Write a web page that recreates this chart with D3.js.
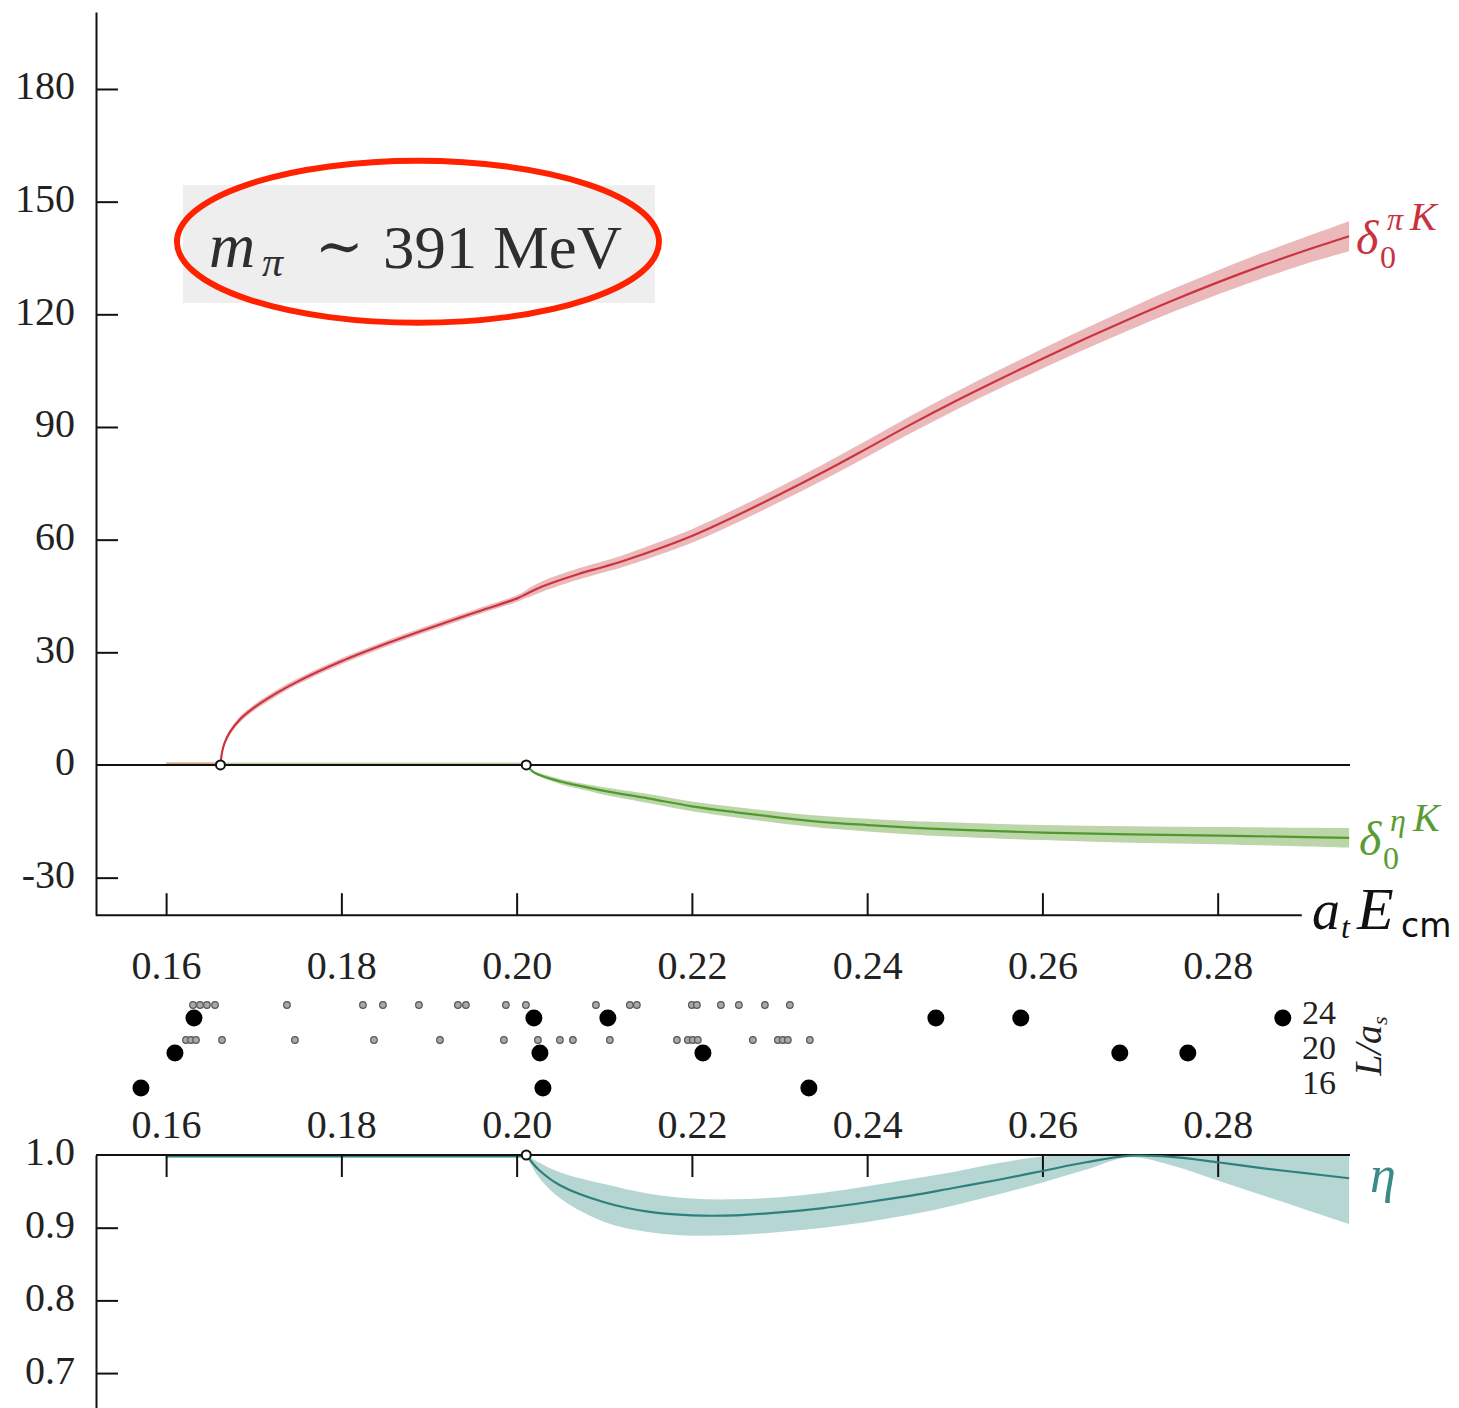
<!DOCTYPE html>
<html>
<head>
<meta charset="utf-8">
<script src="https://cdn.jsdelivr.net/npm/d3@7/dist/d3.min.js"></script>
<style>
  body { margin: 0; background: #fff; }
  svg { display: block; }
  text { font-family: "Liberation Serif", "DejaVu Serif", serif; }
</style>
</head>
<body>
<svg id="chart" width="1459" height="1408"></svg>
<script>
// ---------------- data ----------------
const xTicks = [0.16, 0.18, 0.20, 0.22, 0.24, 0.26, 0.28];
const phaseTicks = [-30, 0, 30, 60, 90, 120, 150, 180];
const etaTicks = [0.7, 0.8, 0.9];

const thrPiK = 0.1662;
const thrEtaK = 0.2011;

// delta_0^{piK}
const E_piK  = [0.1662,0.1664,0.1667,0.1673,0.1685,0.170,0.1725,0.175,0.18,0.185,0.19,0.195,0.2,0.201,0.2015,0.203,0.207,0.21,0.2125,0.22,0.225,0.23,0.235,0.24,0.245,0.25,0.255,0.26,0.265,0.27,0.275,0.28,0.285,0.29,0.295];
const d_piK  = [0,3.6,6,8.8,12.3,15.2,19.0,22.2,27.6,32.2,36.4,40.4,44.3,45.4,46.0,47.6,50.8,52.8,54.6,61,66.3,72,78,84.3,90.7,96.8,102.6,108.2,113.6,118.8,123.8,128.5,132.9,137,140.8];
const d_piK_lo = [0,3.1,5.4,8.1,11.5,14.4,18.2,21.4,26.8,31.4,35.6,39.6,43.4,44.4,44.8,46.2,49.3,51.3,53.0,59.2,64.4,70,75.9,82.1,88.4,94.4,100.1,105.6,110.85,115.9,120.75,125.3,129.5,133.4,136.8];
const d_piK_hi = [0,4.1,6.6,9.5,13.1,16.0,19.8,23.0,28.4,33.0,37.2,41.2,45.2,46.4,47.2,49.0,52.3,54.3,56.2,62.8,68.2,74,80.1,86.5,93,99.2,105.1,110.8,116.35,121.7,126.85,131.7,136.3,140.6,144.8];

// delta_0^{etaK}
const E_etaK  = [0.2011,0.2015,0.202,0.203,0.205,0.2075,0.21,0.215,0.22,0.225,0.23,0.235,0.24,0.245,0.25,0.26,0.27,0.28,0.29,0.295];
const d_etaK  = [0,-1,-2,-3,-4.4,-5.7,-6.9,-8.9,-11,-12.6,-14,-15.2,-16,-16.7,-17.2,-18,-18.5,-18.8,-19.2,-19.4];
const d_etaK_lo = [0,-1.2,-2.3,-3.5,-5.1,-6.5,-7.9,-10.1,-12.3,-14,-15.5,-16.8,-17.7,-18.5,-19.1,-20,-20.7,-21.1,-21.7,-22];
const d_etaK_hi = [0,-0.8,-1.7,-2.5,-3.7,-4.9,-5.9,-7.7,-9.7,-11.2,-12.5,-13.6,-14.3,-14.9,-15.3,-16,-16.3,-16.5,-16.7,-16.8];

// inelasticity eta
const E_eta  = [0.2011,0.2025,0.205,0.21,0.215,0.22,0.225,0.23,0.235,0.24,0.245,0.25,0.255,0.26,0.265,0.27,0.275,0.28,0.285,0.29,0.295];
const eta    = [1.0,0.980,0.958,0.935,0.922,0.917,0.917,0.921,0.927,0.935,0.944,0.955,0.966,0.978,0.990,0.999,0.997,0.990,0.982,0.975,0.968];
const eta_lo = [1.0,0.970,0.940,0.908,0.894,0.889,0.890,0.894,0.900,0.908,0.918,0.931,0.946,0.962,0.980,0.997,0.985,0.965,0.945,0.925,0.905];
const eta_hi = [1.0,0.990,0.976,0.960,0.947,0.940,0.939,0.942,0.948,0.957,0.967,0.977,0.989,0.998,1.0,1.0,1.0,1.0,1.0,1.0,1.0];

// finite-volume levels (big dots) by L/a_s
const levels24 = [0.16318,0.20197,0.21041,0.24784,0.25753,0.28743];
const levels20 = [0.16101,0.20266,0.22126,0.26883,0.27659];
const levels16 = [0.15713,0.20300,0.23335];
// non-interacting levels (small grey dots)
const free24 = [0.16307,0.16387,0.16466,0.16558,0.17379,0.18246,0.18474,0.18885,0.19330,0.19421,0.19878,0.20106,0.20905,0.21292,0.21372,0.22000,0.22057,0.22331,0.22536,0.22833,0.23118];
const free20 = [0.16227,0.16284,0.16341,0.16638,0.17470,0.18372,0.19125,0.19855,0.20243,0.20494,0.20642,0.21064,0.21829,0.21954,0.22011,0.22068,0.22696,0.22981,0.23038,0.23095,0.23346];
const volumes = [24, 20, 16];

// ---------------- drawing ----------------
const svg = d3.select("#chart");
const xEnd = 0.2951;
const x = d3.scaleLinear().domain([0.152, xEnd]).range([96, 1350]);
const y1 = d3.scaleLinear().domain([-40, 200.5]).range([915.2, 12]);
const y2 = d3.scaleLinear().domain([0.64, 1.0]).range([1416.7, 1155]);
const yL = d3.scaleLinear().domain([16, 24]).range([1088, 1018]);

const red = "#cc3340", redBand = "#ecb9bb";
const green = "#4f9a2d", greenBand = "#bcd6a9";
const teal = "#2f7f7c", tealBand = "#b6d6d4";

const zip = (a, b) => a.map((v, i) => [v, b[i]]);
const curve = d3.curveCatmullRom.alpha(0.5);

function styleAxis(g, size) {
  g.attr("font-family", null);
  g.selectAll("line").attr("stroke", "#111").attr("stroke-width", 2);
  g.selectAll("path.domain").attr("stroke", "#111").attr("stroke-width", 2);
  g.selectAll("text").attr("font-size", size).attr("fill", "#222")
    .style("font-family", '"Liberation Serif", serif');
}
const fmtPhase = d => d < 0 ? "-" + (-d) : String(d);

// gray box + label
const boxL = 0.16193, boxR = 0.21578;
svg.append("rect").attr("x", x(boxL)).attr("y", y1(154.4)).attr("width", x(boxR) - x(boxL))
  .attr("height", y1(123) - y1(154.4)).attr("fill", "#eeeeee");
svg.append("ellipse").attr("cx", x(0.18874)).attr("cy", y1(139.3)).attr("rx", 241).attr("ry", 81)
  .attr("fill", "none").attr("stroke", "#ff2200").attr("stroke-width", 6);
const mt = svg.append("g").attr("fill", "#2e2e2e");
mt.append("text").attr("x", 209).attr("y", 267).attr("font-size", 64).attr("font-style", "italic").text("m");
mt.append("text").attr("x", 262).attr("y", 276).attr("font-size", 42).attr("font-style", "italic").text("π");
mt.append("text").attr("x", 315).attr("y", 266).attr("font-size", 58).text("∼");
mt.append("text").attr("x", 383).attr("y", 268).attr("font-size", 62)
  .attr("textLength", 239).attr("lengthAdjust", "spacingAndGlyphs").text("391 MeV");

// ---- top panel ----
const area1 = d3.area().curve(curve).x(d => x(d[0])).y0(d => y1(d[1][0])).y1(d => y1(d[1][1]));
svg.append("path").datum(zip(E_piK, E_piK.map((_, i) => [d_piK_lo[i], d_piK_hi[i]])))
  .attr("fill", redBand).attr("d", area1);
svg.append("path").datum(zip(E_etaK, E_etaK.map((_, i) => [d_etaK_lo[i], d_etaK_hi[i]])))
  .attr("fill", greenBand).attr("d", area1);

// below-threshold faint lines
svg.append("line").attr("x1", x(0.16)).attr("x2", x(thrEtaK)).attr("y1", y1(0) - 1).attr("y2", y1(0) - 1)
  .attr("stroke", greenBand).attr("stroke-width", 3);
svg.append("line").attr("x1", x(0.16)).attr("x2", x(thrPiK)).attr("y1", y1(0) - 1).attr("y2", y1(0) - 1)
  .attr("stroke", "#d9a98f").attr("stroke-width", 3);

// zero line
svg.append("line").attr("x1", x(0.152)).attr("x2", x(xEnd)).attr("y1", y1(0)).attr("y2", y1(0))
  .attr("stroke", "#111").attr("stroke-width", 2);

// central lines
const line1 = d3.line().curve(curve).x(d => x(d[0])).y(d => y1(d[1]));
svg.append("path").datum(zip(E_piK, d_piK)).attr("fill", "none").attr("stroke", red).attr("stroke-width", 2.2).attr("d", line1);
svg.append("path").datum(zip(E_etaK, d_etaK)).attr("fill", "none").attr("stroke", green).attr("stroke-width", 2.2).attr("d", line1);

// axes top panel
const gy1 = svg.append("g").attr("transform", `translate(${x(0.152)},0)`)
  .call(d3.axisLeft(y1).tickValues(phaseTicks.filter(d => d !== 0)).tickFormat(fmtPhase)
    .tickSizeInner(-22).tickSizeOuter(0).tickPadding(21));
styleAxis(gy1, 40);
gy1.selectAll("text").attr("dy", "0.25em");
svg.append("text").attr("x", 75).attr("y", y1(0)).attr("dy", "0.25em").attr("text-anchor", "end")
  .attr("font-size", 40).attr("fill", "#222").text("0");

const gx1 = svg.append("g").attr("transform", `translate(0,${y1(-40)})`)
  .call(d3.axisBottom(x).tickValues(xTicks).tickFormat(d3.format(".2f"))
    .tickSizeInner(-22).tickSizeOuter(0).tickPadding(35));
styleAxis(gx1, 40);
gx1.select("path.domain").attr("d", `M${x(0.152)},0H${x(0.2896)}`);

// threshold open circles
[[thrPiK, 0], [thrEtaK, 0]].forEach(p => {
  svg.append("circle").attr("cx", x(p[0])).attr("cy", y1(p[1])).attr("r", 4.5)
    .attr("fill", "#fff").attr("stroke", "#111").attr("stroke-width", 2);
});

// labels top panel
function deltaLabel(px, py, sup, color) {
  const g = svg.append("g").attr("fill", color);
  g.append("text").attr("x", px).attr("y", py).attr("font-size", 48).attr("font-style", "italic").text("δ");
  g.append("text").attr("x", px + 24).attr("y", py + 14).attr("font-size", 32).text("0");
  g.append("text").attr("x", px + 31).attr("y", py - 24).attr("font-size", 32).attr("font-style", "italic").text(sup);
  g.append("text").attr("x", px + 54).attr("y", py - 24).attr("font-size", 40).attr("font-style", "italic").text("K");
}
deltaLabel(1356, 254, "π", "#c8323e");
deltaLabel(1359, 855, "η", "#5a9c33");

// x axis label
const xl = svg.append("g").attr("fill", "#111");
xl.append("text").attr("x", 1312).attr("y", 929).attr("font-size", 56).attr("font-style", "italic").text("a");
xl.append("text").attr("x", 1341).attr("y", 938).attr("font-size", 32).attr("font-style", "italic").text("t");
xl.append("text").attr("x", 1357).attr("y", 929).attr("font-size", 60).attr("font-style", "italic").text("E");
xl.append("text").attr("x", 1401).attr("y", 937).attr("font-size", 33)
  .style("font-family", '"DejaVu Sans", "Noto Sans", sans-serif').text("cm");

// ---- middle: spectrum ----
const freeRows = [[24, free24], [20, free20]];
freeRows.forEach(([L, arr]) => {
  svg.append("g").selectAll("circle").data(arr).join("circle")
    .attr("cx", d => x(d)).attr("cy", yL(L) - 13).attr("r", 3.3)
    .attr("fill", "#a8a8a8").attr("stroke", "#555").attr("stroke-width", 1.2);
});
const bigRows = [[24, levels24], [20, levels20], [16, levels16]];
bigRows.forEach(([L, arr]) => {
  svg.append("g").selectAll("circle").data(arr).join("circle")
    .attr("cx", d => x(d)).attr("cy", yL(L)).attr("r", 8.5).attr("fill", "#000");
});
svg.append("g").selectAll("text").data(volumes).join("text")
  .attr("x", 1302).attr("y", d => yL(d) + 6).attr("font-size", 34).attr("fill", "#222").text(d => d);
const La = svg.append("text").attr("transform", `translate(1381,1046) rotate(-90)`)
  .attr("text-anchor", "middle").attr("font-size", 38).attr("font-style", "italic").attr("fill", "#222");
La.append("tspan").text("L/a");
La.append("tspan").attr("font-size", 22).attr("dy", 6).text("s");

// ---- bottom panel ----
svg.append("path").datum(zip(E_eta, E_eta.map((_, i) => [eta_lo[i], eta_hi[i]])))
  .attr("fill", tealBand)
  .attr("d", d3.area().curve(curve).x(d => x(d[0])).y0(d => y2(d[1][0])).y1(d => y2(d[1][1])));
svg.append("line").attr("x1", x(0.16)).attr("x2", x(thrEtaK)).attr("y1", y2(1) + 1.5).attr("y2", y2(1) + 1.5)
  .attr("stroke", teal).attr("stroke-width", 2);

const gx2 = svg.append("g").attr("transform", `translate(0,${y2(1)})`)
  .call(d3.axisTop(x).tickValues(xTicks).tickFormat(d3.format(".2f"))
    .tickSizeInner(-22).tickSizeOuter(0).tickPadding(17));
styleAxis(gx2, 40);
gx2.select("path.domain").attr("d", `M${x(0.152)},0H${x(xEnd)}`);

svg.append("path").datum(zip(E_eta, eta)).attr("fill", "none").attr("stroke", teal).attr("stroke-width", 2.2)
  .attr("d", d3.line().curve(curve).x(d => x(d[0])).y(d => y2(d[1])));

const gy2 = svg.append("g").attr("transform", `translate(${x(0.152)},0)`)
  .call(d3.axisLeft(y2).tickValues(etaTicks).tickFormat(d3.format(".1f"))
    .tickSizeInner(-22).tickSizeOuter(0).tickPadding(21));
styleAxis(gy2, 40);
gy2.selectAll("text").attr("dy", "0.25em");
svg.append("text").attr("x", 75).attr("y", y2(1)).attr("dy", "0.25em").attr("text-anchor", "end")
  .attr("font-size", 40).attr("fill", "#222").text("1.0");

svg.append("circle").attr("cx", x(thrEtaK)).attr("cy", y2(1)).attr("r", 4.5)
  .attr("fill", "#fff").attr("stroke", "#111").attr("stroke-width", 2);

svg.append("text").attr("x", 1370).attr("y", 1192).attr("font-size", 52).attr("font-style", "italic")
  .attr("fill", "#3a8b88").text("η");
</script>
</body>
</html>
